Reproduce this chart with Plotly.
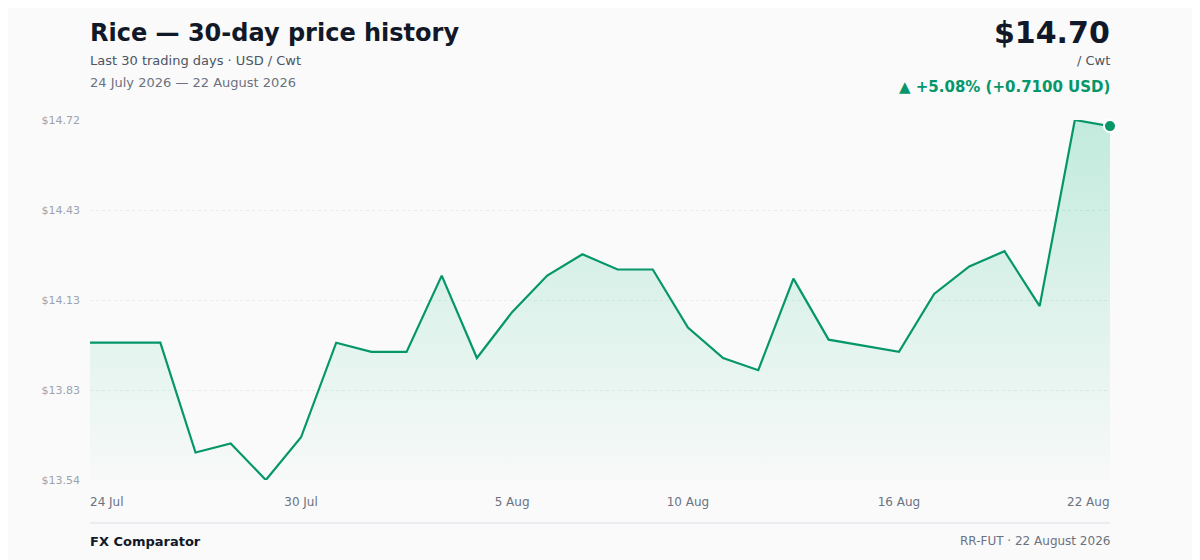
import plotly.graph_objects as go

# ---- data ----
day_index = list(range(30))
prices = [13.99, 13.99, 13.99, 13.63, 13.66, 13.54, 13.68, 13.99, 13.96, 13.96,
          14.21, 13.94, 14.09, 14.21, 14.28, 14.23, 14.23, 14.04, 13.94, 13.90,
          14.20, 14.00, 13.98, 13.96, 14.15, 14.24, 14.29, 14.11, 14.72, 14.70]
x_tick_idx = [0, 6, 12, 17, 23, 29]
x_tick_labels = ["24 Jul", "30 Jul", "5 Aug", "10 Aug", "16 Aug", "22 Aug"]
y_tick_vals = [13.54, 13.835, 14.13, 14.425, 14.72]
y_tick_labels = ["$13.54", "$13.83", "$14.13", "$14.43", "$14.72"]

GREEN = "#059669"
FONT = "DejaVu Sans"
BG = "#fafafa"

fig = go.Figure()
fig.add_trace(go.Scatter(
    x=day_index, y=prices, mode="lines",
    line=dict(color=GREEN, width=2.2),
    fill="tozeroy",
    fillgradient=dict(type="vertical", start=13.54, stop=14.72,
                      colorscale=[[0, "rgba(16,185,129,0.01)"], [1, "rgba(16,185,129,0.24)"]]),
    hoverinfo="skip", showlegend=False,
))
fig.add_trace(go.Scatter(
    x=[day_index[-1]], y=[prices[-1]], mode="markers",
    marker=dict(color=GREEN, size=12, line=dict(color="white", width=2)),
    hoverinfo="skip", showlegend=False, cliponaxis=False,
))

fig.update_layout(
    width=1200, height=560,
    margin=dict(l=82, r=98, t=112, b=88),
    paper_bgcolor=BG, plot_bgcolor=BG,
    font=dict(family=FONT),
    xaxis=dict(range=[0, 29], tickvals=x_tick_idx[1:-1], ticktext=x_tick_labels[1:-1],
               showgrid=False, zeroline=False, showline=False, ticks="",
               ticklabelstandoff=13,
               tickfont=dict(size=12, color="#6b7280"), fixedrange=True),
    yaxis=dict(range=[13.54, 14.72], tickvals=y_tick_vals, ticktext=y_tick_labels,
               showgrid=True, gridcolor="#e8eaee", griddash="dot", gridwidth=1,
               zeroline=False, showline=False, ticks="",
               tickfont=dict(size=11, color="#9ca3af"), ticklabelstandoff=9,
               fixedrange=True),
)

def yp(pix):
    return (480 - pix) / 360.0

L = -2  # shift for left-anchored text
R = 2   # shift for right-anchored text
ann = []
# end x tick labels
ann.append(dict(x=x_tick_idx[0], y=0, xref="x", yref="paper", text=x_tick_labels[0],
                xanchor="left", yanchor="top", yshift=-13, xshift=L, showarrow=False,
                font=dict(size=12, color="#6b7280", family=FONT)))
ann.append(dict(x=x_tick_idx[-1], y=0, xref="x", yref="paper", text=x_tick_labels[-1],
                xanchor="right", yanchor="top", yshift=-13, xshift=R, showarrow=False,
                font=dict(size=12, color="#6b7280", family=FONT)))
# header left
ann.append(dict(x=0, y=yp(33), xref="paper", yref="paper", text="<b>Rice — 30-day price history</b>",
                xanchor="left", yanchor="middle", xshift=L, showarrow=False,
                font=dict(size=24, color="#111827", family=FONT)))
ann.append(dict(x=0, y=yp(61), xref="paper", yref="paper", text="Last 30 trading days · USD / Cwt",
                xanchor="left", yanchor="middle", xshift=L, showarrow=False,
                font=dict(size=13, color="#4b5563", family=FONT)))
ann.append(dict(x=0, y=yp(83), xref="paper", yref="paper", text="24 July 2026 — 22 August 2026",
                xanchor="left", yanchor="middle", xshift=L, showarrow=False,
                font=dict(size=13, color="#6b7280", family=FONT)))
# header right
ann.append(dict(x=1, y=yp(32), xref="paper", yref="paper", text="<b>$14.70</b>",
                xanchor="right", yanchor="middle", xshift=R, showarrow=False,
                font=dict(size=30, color="#111827", family=FONT)))
ann.append(dict(x=1, y=yp(61), xref="paper", yref="paper", text="/ Cwt",
                xanchor="right", yanchor="middle", xshift=R, showarrow=False,
                font=dict(size=13, color="#4b5563", family=FONT)))
ann.append(dict(x=1, y=yp(87), xref="paper", yref="paper", text="<b>▲ +5.08% (+0.7100 USD)</b>",
                xanchor="right", yanchor="middle", xshift=R, showarrow=False,
                font=dict(size=15, color=GREEN, family=FONT)))
# footer
ann.append(dict(x=0, y=yp(541), xref="paper", yref="paper", text="<b>FX Comparator</b>",
                xanchor="left", yanchor="middle", xshift=L, showarrow=False,
                font=dict(size=13, color="#111827", family=FONT)))
ann.append(dict(x=1, y=yp(541), xref="paper", yref="paper", text="RR-FUT · 22 August 2026",
                xanchor="right", yanchor="middle", xshift=R, showarrow=False,
                font=dict(size=12, color="#6b7280", family=FONT)))
fig.update_layout(annotations=ann)

fig.add_shape(type="line", xref="paper", yref="paper", x0=0, x1=1, y0=yp(523), y1=yp(523),
              line=dict(color="#e5e7eb", width=1.5))

fig.write_html("out.html")
